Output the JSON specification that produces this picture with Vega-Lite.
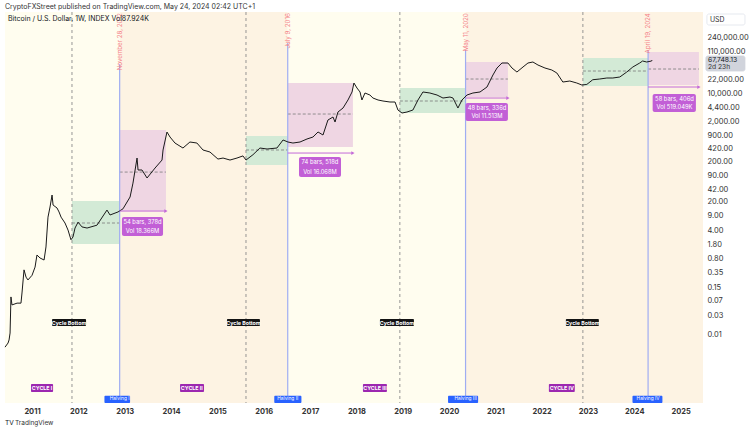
{
  "$schema": "https://vega.github.io/schema/vega-lite/v6.json",
  "width": 698,
  "height": 391,
  "autosize": {"type": "none"},
  "padding": {"left": 5, "top": 12, "right": 47, "bottom": 28},
  "background": "#ffffff",
  "title": {"text": "CryptoFXStreet published on TradingView.com, May 24, 2024 02:42 UTC+1", "anchor": "start", "frame": "group", "fontSize": 7, "fontWeight": "normal", "color": "#333333", "offset": 2, "font": "Inter"},
  "config": {
    "view": {"stroke": null},
    "font": "Inter",
    "axis": {"domain": false, "ticks": false, "grid": false, "labelFont": "Inter"}
  },
  "resolve": {"scale": {"color": "independent", "fill": "independent", "stroke": "independent", "size": "independent"}},
  "datasets": {
    "price": [
      {"d": "2010-06-02", "p": 0.0049}, {"d": "2010-06-26", "p": 0.0062}, {"d": "2010-07-04", "p": 0.0074},
      {"d": "2010-07-12", "p": 0.011}, {"d": "2010-07-19", "p": 0.087}, {"d": "2010-07-27", "p": 0.055},
      {"d": "2010-09-05", "p": 0.061}, {"d": "2010-10-06", "p": 0.061}, {"d": "2010-10-14", "p": 0.109},
      {"d": "2010-10-30", "p": 0.41}, {"d": "2010-11-15", "p": 0.27}, {"d": "2010-11-30", "p": 0.23},
      {"d": "2011-01-01", "p": 0.30}, {"d": "2011-01-25", "p": 0.48}, {"d": "2011-02-09", "p": 0.96},
      {"d": "2011-03-05", "p": 0.81}, {"d": "2011-04-06", "p": 0.72}, {"d": "2011-04-21", "p": 1.52},
      {"d": "2011-05-07", "p": 8.4}, {"d": "2011-05-23", "p": 15.0}, {"d": "2011-06-08", "p": 29.8},
      {"d": "2011-06-16", "p": 16.8}, {"d": "2011-07-17", "p": 14.2}, {"d": "2011-08-02", "p": 11.3},
      {"d": "2011-08-18", "p": 8.4}, {"d": "2011-09-18", "p": 6.0}, {"d": "2011-10-12", "p": 4.0},
      {"d": "2011-11-04", "p": 2.3}, {"d": "2011-11-20", "p": 2.7}, {"d": "2011-12-06", "p": 4.5},
      {"d": "2011-12-30", "p": 6.3}, {"d": "2012-01-30", "p": 4.8}, {"d": "2012-03-10", "p": 4.5},
      {"d": "2012-05-27", "p": 5.3}, {"d": "2012-08-14", "p": 12.6}, {"d": "2012-09-07", "p": 9.5},
      {"d": "2012-11-09", "p": 11.3}, {"d": "2012-12-18", "p": 13.5}, {"d": "2013-02-12", "p": 26.6},
      {"d": "2013-03-07", "p": 59}, {"d": "2013-04-08", "p": 248}, {"d": "2013-04-16", "p": 125},
      {"d": "2013-05-17", "p": 125}, {"d": "2013-06-26", "p": 79}, {"d": "2013-08-28", "p": 140},
      {"d": "2013-10-22", "p": 221}, {"d": "2013-10-30", "p": 393}, {"d": "2013-11-30", "p": 1100},
      {"d": "2013-12-24", "p": 826}, {"d": "2014-02-01", "p": 586}, {"d": "2014-04-05", "p": 440},
      {"d": "2014-05-30", "p": 621}, {"d": "2014-07-24", "p": 586}, {"d": "2014-09-10", "p": 393},
      {"d": "2014-11-04", "p": 350}, {"d": "2015-01-06", "p": 234}, {"d": "2015-02-15", "p": 248},
      {"d": "2015-04-11", "p": 221}, {"d": "2015-06-05", "p": 248}, {"d": "2015-07-22", "p": 280},
      {"d": "2015-08-15", "p": 221}, {"d": "2015-10-09", "p": 300}, {"d": "2015-12-03", "p": 440},
      {"d": "2016-01-28", "p": 416}, {"d": "2016-04-15", "p": 440}, {"d": "2016-06-02", "p": 697},
      {"d": "2016-07-11", "p": 621}, {"d": "2016-08-19", "p": 586}, {"d": "2016-10-14", "p": 621},
      {"d": "2016-12-08", "p": 738}, {"d": "2017-01-24", "p": 826}, {"d": "2017-03-05", "p": 1102},
      {"d": "2017-04-13", "p": 927}, {"d": "2017-05-22", "p": 2188}, {"d": "2017-07-01", "p": 2600},
      {"d": "2017-07-17", "p": 1950}, {"d": "2017-08-09", "p": 3460}, {"d": "2017-09-18", "p": 4350},
      {"d": "2017-10-27", "p": 6890}, {"d": "2017-11-28", "p": 10890}, {"d": "2017-12-13", "p": 18230},
      {"d": "2018-01-06", "p": 13680}, {"d": "2018-01-30", "p": 10890}, {"d": "2018-02-14", "p": 6890},
      {"d": "2018-03-10", "p": 10280}, {"d": "2018-04-18", "p": 9160}, {"d": "2018-05-12", "p": 7710},
      {"d": "2018-06-21", "p": 6890}, {"d": "2018-07-30", "p": 6500}, {"d": "2018-09-23", "p": 6140},
      {"d": "2018-11-02", "p": 6140}, {"d": "2018-11-25", "p": 3880}, {"d": "2018-12-27", "p": 3270},
      {"d": "2019-02-04", "p": 3460}, {"d": "2019-03-23", "p": 3880}, {"d": "2019-05-02", "p": 6890},
      {"d": "2019-06-10", "p": 10890}, {"d": "2019-08-04", "p": 10280}, {"d": "2019-09-29", "p": 9160},
      {"d": "2019-11-15", "p": 7710}, {"d": "2020-01-09", "p": 8170}, {"d": "2020-02-02", "p": 7710},
      {"d": "2020-03-12", "p": 4350}, {"d": "2020-04-13", "p": 6890}, {"d": "2020-05-22", "p": 9160},
      {"d": "2020-07-08", "p": 10280}, {"d": "2020-09-02", "p": 10890}, {"d": "2020-10-27", "p": 14490},
      {"d": "2020-12-13", "p": 28840}, {"d": "2021-01-14", "p": 43050}, {"d": "2021-02-22", "p": 57300},
      {"d": "2021-04-10", "p": 57300}, {"d": "2021-05-12", "p": 43050}, {"d": "2021-06-20", "p": 34200},
      {"d": "2021-08-07", "p": 45600}, {"d": "2021-09-15", "p": 57300}, {"d": "2021-10-24", "p": 60700},
      {"d": "2021-12-03", "p": 51050}, {"d": "2022-01-27", "p": 43050}, {"d": "2022-03-22", "p": 38370},
      {"d": "2022-05-01", "p": 32300}, {"d": "2022-06-17", "p": 19280}, {"d": "2022-08-11", "p": 20420},
      {"d": "2022-10-05", "p": 18230}, {"d": "2022-11-14", "p": 16250}, {"d": "2022-12-23", "p": 16800},
      {"d": "2023-02-08", "p": 22000}, {"d": "2023-04-04", "p": 22910}, {"d": "2023-05-30", "p": 24270},
      {"d": "2023-07-16", "p": 24270}, {"d": "2023-09-09", "p": 25700}, {"d": "2023-11-03", "p": 34200},
      {"d": "2023-12-21", "p": 45600}, {"d": "2024-02-13", "p": 57300}, {"d": "2024-03-07", "p": 64300},
      {"d": "2024-04-08", "p": 60700}, {"d": "2024-05-17", "p": 64300}, {"d": "2024-05-20", "p": 67748.13}
    ],
    "bands": [
      {"s": "2010-06-02", "e": "2012-11-22", "k": "a"},
      {"s": "2012-11-22", "e": "2016-07-09", "k": "b"},
      {"s": "2016-07-09", "e": "2020-05-11", "k": "a"},
      {"s": "2020-05-11", "e": "2025-06-26", "k": "b"}
    ],
    "boxes": [
      {"s": "2011-11-12", "e": "2012-11-22", "hi": 21.1, "lo": 1.8, "mid": 6.0, "k": "g"},
      {"s": "2012-11-22", "e": "2013-11-22", "hi": 1233, "lo": 11.9, "mid": 111, "k": "p"},
      {"s": "2015-08-15", "e": "2016-07-09", "hi": 875, "lo": 166, "mid": 393, "k": "g"},
      {"s": "2016-07-09", "e": "2017-12-05", "hi": 18230, "lo": 466, "mid": 3085, "k": "p"},
      {"s": "2018-12-10", "e": "2020-05-11", "hi": 13680, "lo": 3266, "mid": 6500, "k": "g"},
      {"s": "2020-05-11", "e": "2021-04-10", "hi": 60700, "lo": 8170, "mid": 22900, "k": "p"},
      {"s": "2022-11-22", "e": "2024-04-19", "hi": 76300, "lo": 15350, "mid": 36200, "k": "g"},
      {"s": "2024-04-19", "e": "2025-05-25", "hi": 107600, "lo": 16250, "mid": 40600, "k": "p"}
    ],
    "ranges": [
      {"s": "2012-11-22", "e": "2013-11-22", "ay": 11.9, "l1": "54 bars, 378d", "l2": "Vol 18.366M", "bx1": "2012-12-10", "bx2": "2013-10-30", "bhi": 8.45, "blo": 2.85, "tx": "2013-05-21", "t1": 6.35, "t2": 3.79},
      {"s": "2016-07-09", "e": "2017-12-05", "ay": 330, "l1": "74 bars, 518d", "l2": "Vol 16.068M", "bx1": "2016-10-06", "bx2": "2017-09-02", "bhi": 263, "blo": 83.6, "tx": "2017-03-20", "t1": 197, "t2": 111},
      {"s": "2020-05-11", "e": "2021-04-10", "ay": 7710, "l1": "48 bars, 336d", "l2": "Vol 11.513M", "bx1": "2020-05-11", "bx2": "2021-04-10", "bhi": 5800, "blo": 2066, "tx": "2020-10-27", "t1": 4355, "t2": 2754},
      {"s": "2024-04-19", "e": "2025-05-25", "ay": 14490, "l1": "58 bars, 406d", "l2": "Vol 519.049K", "bx1": "2024-05-25", "bx2": "2025-05-01", "bhi": 9700, "blo": 3460, "tx": "2024-11-13", "t1": 7290, "t2": 4610}
    ],
    "halvings": [
      {"d": "2012-11-22", "top": 54000, "date": "November 28, 2012", "name": "Halving I", "lx1": "2012-07-25", "lx2": "2013-02-12"},
      {"d": "2016-07-09", "top": 180000, "date": "July 9, 2016", "name": "Halving II", "lx1": "2016-03-25", "lx2": "2016-10-25"},
      {"d": "2020-05-11", "top": 120600, "date": "May 11, 2020", "name": "Halving III", "lx1": "2019-12-25", "lx2": "2020-08-18"},
      {"d": "2024-04-19", "top": 120600, "date": "April 19, 2024", "name": "Halving IV", "lx1": "2023-12-18", "lx2": "2024-08-10"}
    ],
    "bottoms": [
      {"d": "2011-11-12", "lx1": "2011-06-08", "lx2": "2012-03-02", "c": "2011-10-20", "name": "Cycle Bottom"},
      {"d": "2015-08-15", "lx1": "2015-03-18", "lx2": "2015-12-03", "c": "2015-07-26", "name": "Cycle Bottom"},
      {"d": "2018-12-10", "lx1": "2018-07-06", "lx2": "2019-03-31", "c": "2018-11-17", "name": "Cycle Bottom"},
      {"d": "2022-11-22", "lx1": "2022-07-11", "lx2": "2023-03-28", "c": "2022-11-18", "name": "Cycle Bottom"}
    ],
    "cycles": [
      {"n": "CYCLE I", "x1": "2010-12-24", "x2": "2011-06-16", "c": "2011-03-21"},
      {"n": "CYCLE II", "x1": "2014-03-13", "x2": "2014-09-18", "c": "2014-06-14"},
      {"n": "CYCLE III", "x1": "2018-02-22", "x2": "2018-08-30", "c": "2018-05-28"},
      {"n": "CYCLE IV", "x1": "2022-02-27", "x2": "2022-09-19", "c": "2022-06-09"}
    ],
    "notes": [
      {"t": "Bitcoin / U.S. Dollar, 1W, INDEX  Vol87.924K", "d": "2010-06-26", "p": 713000, "g": "hdr"},
      {"t": "USD", "d": "2025-08-20", "p": 692000, "g": "usd"},
      {"t": "67,748.13", "d": "2025-08-04", "p": 68000, "g": "last"},
      {"t": "2d 23h", "d": "2025-08-04", "p": 45600, "g": "cd"},
      {"t": "TV", "d": "2010-06-02", "p": 0.0000635, "g": "logo"},
      {"t": "TradingView", "d": "2010-08-20", "p": 0.0000635, "g": "foot"}
    ],
    "sideboxes": [
      {"s": "2025-07-27", "e": "2026-05-23", "hi": 949000, "lo": 505000, "k": "usd"},
      {"s": "2025-07-19", "e": "2026-05-23", "hi": 85500, "lo": 36200, "k": "last"}
    ]
  },
  "layer": [
    {
      "data": {"name": "bands"},
      "mark": {"type": "rect"},
      "encoding": {
        "x": {"field": "s", "type": "temporal", "title": null,
          "scale": {"domain": [{"year": 2010, "month": 6, "date": 2}, {"year": 2025, "month": 6, "date": 26}], "nice": false},
          "axis": {"orient": "bottom", "format": "%Y", "labelFontSize": 7.5, "labelFontWeight": "bold", "labelColor": "#333333", "labelPadding": 4,
            "values": [{"year": 2011}, {"year": 2012}, {"year": 2013}, {"year": 2014}, {"year": 2015}, {"year": 2016}, {"year": 2017}, {"year": 2018}, {"year": 2019}, {"year": 2020}, {"year": 2021}, {"year": 2022}, {"year": 2023}, {"year": 2024}, {"year": 2025}]}},
        "x2": {"field": "e"},
        "color": {"field": "k", "type": "nominal", "legend": null, "scale": {"domain": ["a", "b"], "range": ["#FFFDEF", "#FDF3E3"]}}
      }
    },
    {
      "data": {"name": "boxes"},
      "mark": {"type": "rect", "opacity": 1},
      "encoding": {
        "x": {"field": "s", "type": "temporal", "title": null},
        "x2": {"field": "e"},
        "y": {"field": "hi", "type": "quantitative", "title": null,
          "scale": {"type": "log", "domain": [0.0002, 1064000], "nice": false},
          "axis": {"orient": "right", "format": ",.2f", "labelFontSize": 7.5, "labelColor": "#333333", "labelPadding": 4,
            "values": [0.01, 0.03, 0.07, 0.15, 0.35, 0.8, 1.8, 4, 9, 20, 42, 90, 200, 420, 900, 2000, 4400, 10000, 22000, 110000, 240000]}},
        "y2": {"field": "lo"},
        "fill": {"field": "k", "type": "nominal", "legend": null, "scale": {"domain": ["g", "p"], "range": ["#D3EAD6", "#EFD6E3"]}}
      }
    },
    {
      "data": {"name": "boxes"},
      "mark": {"type": "rule", "strokeDash": [3, 2], "strokeWidth": 0.8, "color": "#7a7a7a"},
      "encoding": {
        "x": {"field": "s", "type": "temporal", "title": null},
        "x2": {"field": "e"},
        "y": {"field": "mid", "type": "quantitative", "title": null}
      }
    },
    {
      "mark": {"type": "rule", "strokeDash": [1, 3], "strokeWidth": 0.8, "color": "#e57373", "opacity": 0.6},
      "encoding": {
        "y": {"datum": 67748.13, "type": "quantitative", "title": null}
      }
    },
    {
      "data": {"name": "bottoms"},
      "mark": {"type": "rule", "strokeDash": [3, 3], "strokeWidth": 0.9, "color": "#8a8a8a"},
      "encoding": {
        "x": {"field": "d", "type": "temporal", "title": null}
      }
    },
    {
      "data": {"name": "halvings"},
      "mark": {"type": "rule", "strokeWidth": 1.2, "color": "#9fadf2"},
      "encoding": {
        "x": {"field": "d", "type": "temporal", "title": null},
        "y": {"field": "top", "type": "quantitative", "title": null},
        "y2": {"datum": 0.0002}
      }
    },
    {
      "data": {"name": "price"},
      "mark": {"type": "line", "strokeWidth": 1, "color": "#1a1a1a"},
      "encoding": {
        "x": {"field": "d", "type": "temporal", "title": null},
        "y": {"field": "p", "type": "quantitative", "title": null}
      }
    },
    {
      "data": {"name": "ranges"},
      "mark": {"type": "rule", "strokeWidth": 1, "color": "#c46ad8"},
      "encoding": {
        "x": {"field": "s", "type": "temporal", "title": null},
        "x2": {"field": "e"},
        "y": {"field": "ay", "type": "quantitative", "title": null}
      }
    },
    {
      "data": {"name": "ranges"},
      "mark": {"type": "point", "shape": "triangle-right", "size": 14, "filled": true, "color": "#c46ad8", "opacity": 1},
      "encoding": {
        "x": {"field": "e", "type": "temporal", "title": null},
        "y": {"field": "ay", "type": "quantitative", "title": null}
      }
    },
    {
      "data": {"name": "ranges"},
      "mark": {"type": "rect", "color": "#c25fd6", "cornerRadius": 2},
      "encoding": {
        "x": {"field": "bx1", "type": "temporal", "title": null},
        "x2": {"field": "bx2"},
        "y": {"field": "bhi", "type": "quantitative", "title": null},
        "y2": {"field": "blo"}
      }
    },
    {
      "data": {"name": "ranges"},
      "mark": {"type": "text", "fontSize": 5.8, "color": "#ffffff", "align": "center", "baseline": "middle"},
      "encoding": {
        "x": {"field": "tx", "type": "temporal", "title": null},
        "y": {"field": "t1", "type": "quantitative", "title": null},
        "text": {"field": "l1"}
      }
    },
    {
      "data": {"name": "ranges"},
      "mark": {"type": "text", "fontSize": 5.8, "color": "#ffffff", "align": "center", "baseline": "middle"},
      "encoding": {
        "x": {"field": "tx", "type": "temporal", "title": null},
        "y": {"field": "t2", "type": "quantitative", "title": null},
        "text": {"field": "l2"}
      }
    },
    {
      "data": {"name": "halvings"},
      "mark": {"type": "text", "fontSize": 6.2, "color": "#f47c84", "angle": 270, "align": "right", "baseline": "middle"},
      "encoding": {
        "x": {"field": "d", "type": "temporal", "title": null},
        "y": {"datum": 990000, "type": "quantitative", "title": null},
        "text": {"field": "date"}
      }
    },
    {
      "data": {"name": "halvings"},
      "mark": {"type": "rect", "color": "#2962ff", "cornerRadius": 1},
      "encoding": {
        "x": {"field": "lx1", "type": "temporal", "title": null},
        "x2": {"field": "lx2"},
        "y": {"datum": 0.000305, "type": "quantitative", "title": null},
        "y2": {"datum": 0.0002}
      }
    },
    {
      "data": {"name": "halvings"},
      "mark": {"type": "text", "fontSize": 4.8, "color": "#ffffff", "align": "center", "baseline": "middle"},
      "encoding": {
        "x": {"field": "d", "type": "temporal", "title": null},
        "y": {"datum": 0.000247, "type": "quantitative", "title": null},
        "text": {"field": "name"}
      }
    },
    {
      "data": {"name": "bottoms"},
      "mark": {"type": "rect", "color": "#131313", "cornerRadius": 1},
      "encoding": {
        "x": {"field": "lx1", "type": "temporal", "title": null},
        "x2": {"field": "lx2"},
        "y": {"datum": 0.0245, "type": "quantitative", "title": null},
        "y2": {"datum": 0.01643}
      }
    },
    {
      "data": {"name": "bottoms"},
      "mark": {"type": "text", "fontSize": 5.3, "fontWeight": "bold", "color": "#ffffff", "align": "center", "baseline": "middle"},
      "encoding": {
        "x": {"field": "c", "type": "temporal", "title": null},
        "y": {"datum": 0.0201, "type": "quantitative", "title": null},
        "text": {"field": "name"}
      }
    },
    {
      "data": {"name": "cycles"},
      "mark": {"type": "rect", "color": "#9c27b0", "cornerRadius": 1},
      "encoding": {
        "x": {"field": "x1", "type": "temporal", "title": null},
        "x2": {"field": "x2"},
        "y": {"datum": 0.000593, "type": "quantitative", "title": null},
        "y2": {"datum": 0.000375}
      }
    },
    {
      "data": {"name": "cycles"},
      "mark": {"type": "text", "fontSize": 5.3, "fontWeight": "bold", "color": "#ffffff", "align": "center", "baseline": "middle"},
      "encoding": {
        "x": {"field": "c", "type": "temporal", "title": null},
        "y": {"datum": 0.000471, "type": "quantitative", "title": null},
        "text": {"field": "n"}
      }
    },
    {
      "data": {"name": "sideboxes"},
      "mark": {"type": "rect", "strokeWidth": 0.8, "cornerRadius": 2},
      "encoding": {
        "x": {"field": "s", "type": "temporal", "title": null},
        "x2": {"field": "e"},
        "y": {"field": "hi", "type": "quantitative", "title": null},
        "y2": {"field": "lo"},
        "fill": {"field": "k", "type": "nominal", "legend": null, "scale": {"domain": ["usd", "last"], "range": ["#ffffff", "#d1d4dc"]}},
        "stroke": {"field": "k", "type": "nominal", "legend": null, "scale": {"domain": ["usd", "last"], "range": ["#e0e3eb", "#d1d4dc"]}}
      }
    },
    {
      "data": {"name": "notes"},
      "mark": {"type": "text", "align": "left", "baseline": "middle"},
      "encoding": {
        "x": {"field": "d", "type": "temporal", "title": null},
        "y": {"field": "p", "type": "quantitative", "title": null},
        "text": {"field": "t"},
        "size": {"field": "g", "type": "nominal", "legend": null, "scale": {"domain": ["hdr", "usd", "last", "cd", "logo", "foot"], "range": [7, 6.5, 7.5, 6.5, 7, 7]}},
        "color": {"field": "g", "type": "nominal", "legend": null, "scale": {"domain": ["hdr", "usd", "last", "cd", "logo", "foot"], "range": ["#131722", "#333333", "#131722", "#333333", "#131722", "#333333"]}}
      }
    }
  ]
}
